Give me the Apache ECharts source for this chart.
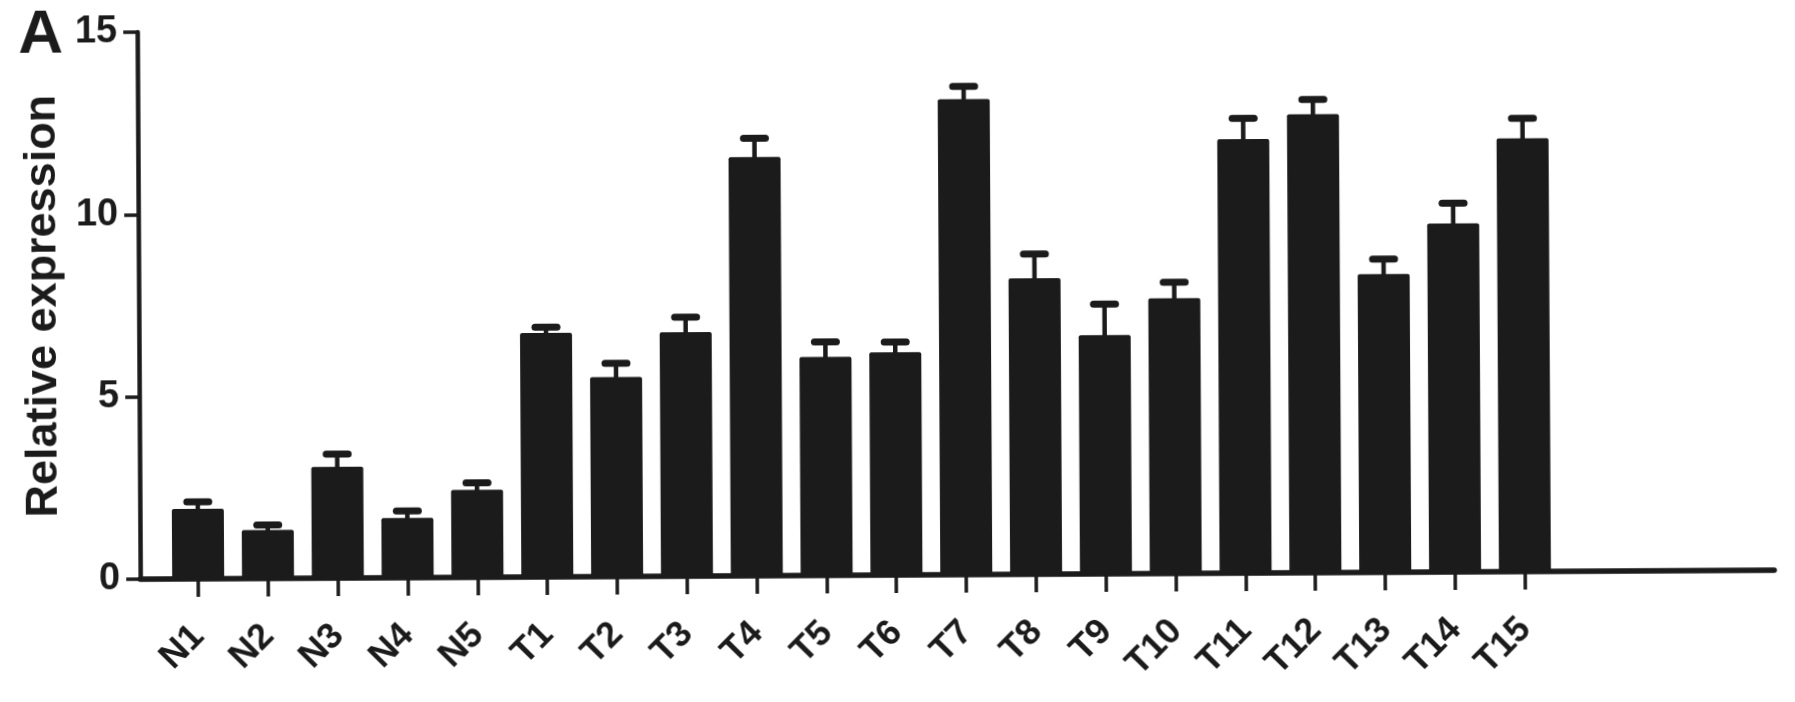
<!DOCTYPE html>
<html>
<head>
<meta charset="utf-8">
<script src="https://cdn.jsdelivr.net/npm/echarts@6/dist/echarts.min.js"></script>
<style>
  html, body { margin: 0; padding: 0; background: #fff; }
  /* the scanned figure is tilted a little, right side up */
  #zoom { width: 1795px; height: 702px; transform: rotate(-0.315deg); }
</style>
</head>
<body>
<div id="zoom"></div>
<script>
const categories = ['N1', 'N2', 'N3', 'N4', 'N5', 'T1', 'T2', 'T3', 'T4', 'T5',
  'T6', 'T7', 'T8', 'T9', 'T10', 'T11', 'T12', 'T13', 'T14', 'T15'];
const meanValues = [1.92, 1.33, 3.05, 1.64, 2.40, 6.69, 5.47, 6.69, 11.48, 5.99,
  6.11, 13.04, 8.12, 6.55, 7.55, 11.90, 12.57, 8.18, 9.56, 11.88];
const errValues = [0.19, 0.14, 0.35, 0.19, 0.19, 0.16, 0.38, 0.41, 0.52, 0.41,
  0.28, 0.35, 0.66, 0.85, 0.44, 0.57, 0.41, 0.41, 0.55, 0.55];
const yTicks = [0, 5, 10, 15];

const ink = '#1b1b1b';
const sans = "'Liberation Sans', Arial, sans-serif";
const positions = categories.map((c, i) => i);

const chart = echarts.init(document.getElementById('zoom'));

const option = {
  animation: false,
  backgroundColor: '#fff',
  title: {
    text: 'A',
    left: 20,
    top: 0,
    padding: 0,
    textStyle: { fontFamily: sans, fontWeight: 'bold', fontSize: 62, color: ink }
  },
  grid: {
    left: 139,
    right: 22,
    top: 28,
    bottom: 127,
    containLabel: false,
    outerBoundsMode: 'none'
  },
  xAxis: {
    type: 'value',
    min: -0.83,
    max: 22.57,
    splitLine: { show: false },
    axisLine: { show: true, onZero: false, lineStyle: { color: ink, width: 5.5 } },
    axisTick: {
      show: true,
      customValues: positions,
      length: 18,
      lineStyle: { color: ink, width: 3.5 }
    },
    axisLabel: {
      customValues: positions,
      formatter: v => categories[Math.round(v)],
      rotate: 45,
      margin: 52,
      fontFamily: sans,
      fontWeight: 'bold',
      fontSize: 36,
      color: ink
    }
  },
  yAxis: {
    type: 'value',
    min: 0,
    max: 15,
    interval: 5,
    name: 'Relative expression',
    nameLocation: 'middle',
    nameRotate: 90,
    nameGap: 66,
    nameTextStyle: { fontFamily: sans, fontWeight: 'bold', fontSize: 45, color: ink },
    splitLine: { show: false },
    axisLine: { show: true, onZero: false, lineStyle: { color: ink, width: 4.5 } },
    axisTick: { show: true, length: 14, lineStyle: { color: ink, width: 3.5 } },
    axisLabel: {
      margin: 20,
      formatter: v => (yTicks.includes(v) ? String(v) : ''),
      fontFamily: sans,
      fontWeight: 'bold',
      fontSize: 38,
      color: ink
    }
  },
  series: [
    {
      name: 'mean',
      type: 'bar',
      barWidth: 52,
      itemStyle: { color: ink, borderRadius: [2, 2, 0, 0] },
      data: meanValues.map((v, i) => [i, v])
    },
    {
      name: 'sem',
      type: 'custom',
      z: 3,
      encode: { x: 0, y: 1 },
      data: meanValues.map((v, i) => [i, v, errValues[i]]),
      renderItem: (params, api) => {
        const i = api.value(0);
        const m = api.value(1);
        const e = api.value(2);
        const base = api.coord([i, m]);
        const top = api.coord([i, m + e]);
        return {
          type: 'group',
          children: [
            {
              type: 'line',
              shape: { x1: base[0], y1: base[1] + 2, x2: top[0], y2: top[1] },
              style: { stroke: ink, lineWidth: 4.5 }
            },
            {
              type: 'line',
              shape: { x1: top[0] - 11, y1: top[1], x2: top[0] + 11, y2: top[1] },
              style: { stroke: ink, lineWidth: 7, lineCap: 'round' }
            }
          ]
        };
      }
    }
  ]
};

chart.setOption(option);
</script>
</body>
</html>
